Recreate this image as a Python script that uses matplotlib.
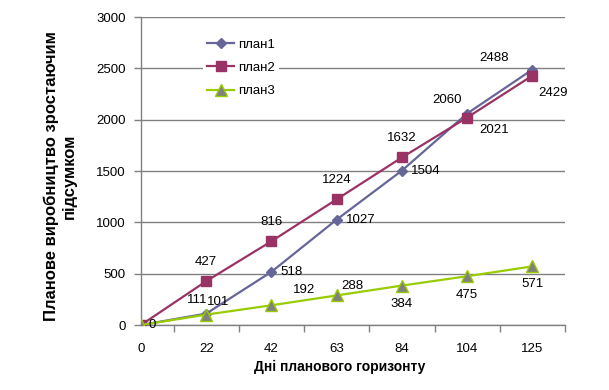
import matplotlib
matplotlib.use("Agg")
import matplotlib.pyplot as plt

plt.rcParams['font.family'] = ['Liberation Sans', 'DejaVu Sans']

days = ["0", "22", "42", "63", "84", "104", "125"]
plan1 = [0, 111, 518, 1027, 1504, 2060, 2488]
plan2 = [0, 427, 816, 1224, 1632, 2021, 2429]
plan3 = [0, 101, 192, 288, 384, 475, 571]

# label offsets in pixels (dx, dy)
off1 = [None, (-9, 14), (20, 0), (24, 0), (24, 0), (-20, 14), (-38, 12)]
off2 = [None, (0, 19), (0, 19), (0, 19), (0, 19), (27, -12), (21, -17)]
off3 = [(11, 0), (12, 13), (33, 15), (16, 9), (0, -18), (0, -19), (0, -18)]

c1 = "#666699"
c2 = "#993366"
c3 = "#99CC00"
grey = "#808080"

fig = plt.figure(figsize=(6.09, 3.90), dpi=100)
ax = fig.add_axes([141 / 609, 1 - 325 / 390, 424 / 609, 308 / 390])

x = list(range(len(days)))
ax.plot(x, plan1, color=c1, lw=1.6, marker="D", ms=5.5, mfc=c1, mec=c1, label="план1", zorder=3)
ax.plot(x, plan2, color=c2, lw=1.6, marker="s", ms=7, mfc=c2, mec=c2, label="план2", zorder=3)
ax.plot(x, plan3, color=c3, lw=1.6, marker="^", ms=8, mfc=grey, mec=c3, label="план3", zorder=3)

for vals, offs in [(plan1, off1), (plan2, off2), (plan3, off3)]:
    for i, v in enumerate(vals):
        if offs[i] is None:
            continue
        ax.annotate(str(v), (i, v), xytext=offs[i], textcoords="offset pixels",
                    ha="center", va="center", fontsize=9.5, zorder=4)

ax.set_xlim(0, 6.5)
ax.set_ylim(0, 3000)
ax.set_yticks(range(0, 3001, 500))
ax.set_xticks(x)
ax.set_xticklabels(days)
ax.set_xticks([i + 0.5 for i in x], minor=True)
ax.tick_params(axis="x", which="major", length=0, pad=13, labelsize=9.5)
ax.tick_params(axis="x", which="minor", length=5, color=grey, width=1)
ax.tick_params(axis="y", length=5, color=grey, width=1, pad=6, labelsize=9.5)

ax.grid(axis="y", color=grey, lw=1)
ax.set_axisbelow(True)
for s in ["top", "right"]:
    ax.spines[s].set_visible(False)
for s in ["left", "bottom"]:
    ax.spines[s].set_color(grey)
    ax.spines[s].set_linewidth(1)

leg = ax.legend(loc="upper left", bbox_to_anchor=(0.13, 0.965), fontsize=9.5,
                frameon=True, fancybox=False, edgecolor="none", facecolor="white",
                framealpha=1, handlelength=2.1, handletextpad=0.25, labelspacing=0.85,
                borderpad=0.3)

fig.text(340 / 609, 1 - 367 / 390, "Дні планового горизонту", ha="center", va="center",
         fontsize=10, fontweight="bold")
fig.text(60 / 609, 1 - 176 / 390, "Планове виробництво зростаючим\nпідсумком", ha="center",
         va="center", rotation=90, fontsize=12, fontweight="bold", linespacing=1.25)

fig.savefig("out.png", dpi=100)
